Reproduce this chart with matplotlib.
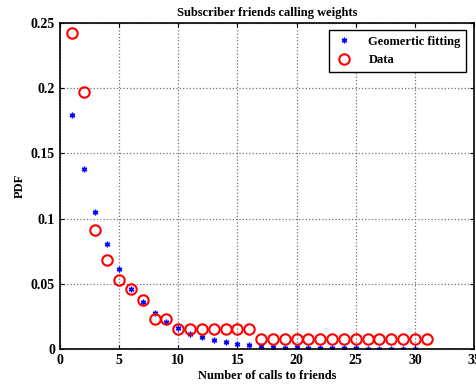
import numpy as np
import matplotlib.pyplot as plt

# calls to friends, observed pdf and geometric fit
x_data = np.arange(1, 32)
pdf_data = [0.242, 0.197, 0.091, 0.0685, 0.053, 0.0458, 0.0376, 0.0233, 0.0233,
            0.0151, 0.0151, 0.0151, 0.0151, 0.0151, 0.0151, 0.0151,
            0.0077, 0.0077, 0.0077, 0.0077, 0.0077, 0.0077, 0.0077, 0.0077,
            0.0077, 0.0077, 0.0077, 0.0077, 0.0077, 0.0077, 0.0077]
x_fit = np.arange(1, 31)
pdf_fit = [0.1795, 0.1378, 0.1048, 0.0808, 0.0616, 0.0463, 0.036, 0.0274, 0.0205,
           0.0159, 0.0115, 0.009, 0.0067, 0.0054, 0.0036, 0.0033, 0.0023, 0.0018,
           0.0011, 0.0015, 0.0012, 0.0008, 0.0006, 0.0005, 0.0006, 0.0004, 0.0004,
           0.0003, 0.0003, 0.0003]

plt.rcParams['font.family'] = ['Liberation Serif', 'DejaVu Serif']
plt.rcParams['font.weight'] = 'bold'

fig = plt.figure(figsize=(4.76, 3.87), dpi=100)
ax = fig.add_axes([0.126, 0.098, 0.87, 0.8426])

ax.plot(x_fit, pdf_fit, linestyle='none', marker=(6, 2, 0), markersize=4,
        color='blue', markeredgewidth=1.0, label='Geomertic fitting')
ax.plot(x_data, pdf_data, linestyle='none', marker='o', markersize=7.5,
        markerfacecolor='none', markeredgecolor='red', markeredgewidth=1.5, label='Data')

ax.set_xlim(0, 35)
ax.set_ylim(0, 0.25)
ax.set_xticks(np.arange(0, 36, 5))
ax.set_yticks([0, 0.05, 0.1, 0.15, 0.2, 0.25])
ax.set_yticklabels(['0', '0.05', '0.1', '0.15', '0.2', '0.25'])
ax.tick_params(direction='in', top=True, right=True, labelsize=10, length=3)
for lbl in ax.get_xticklabels() + ax.get_yticklabels():
    lbl.set_fontweight('bold')
ax.grid(True, linestyle=':', color='0.45', linewidth=0.9)
for s in ax.spines.values():
    s.set_linewidth(1.2)

ax.set_title('Subscriber friends calling weights', fontsize=9, fontweight='bold', pad=5)
ax.set_xlabel('Number of calls to friends', fontsize=9, fontweight='bold', labelpad=2)
ax.set_ylabel('PDF', fontsize=9, fontweight='bold', labelpad=4)

leg = ax.legend(loc='upper right', fontsize=9, frameon=True, fancybox=False,
                edgecolor='black', framealpha=1, borderaxespad=0.45,
                handlelength=1.5, handletextpad=1.2, borderpad=0.45,
                labelspacing=0.5, bbox_to_anchor=(0.995, 0.995))
leg.get_frame().set_linewidth(1.0)

fig.savefig('out.png', dpi=100)
